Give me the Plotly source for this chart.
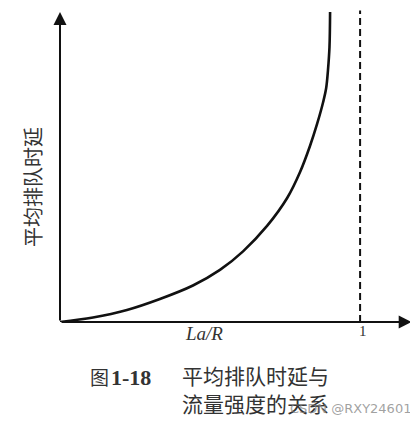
import plotly.graph_objects as go

# traffic intensity La/R vs average queuing delay
intensity = [0, 0.11, 0.223, 0.333, 0.443, 0.533, 0.61, 0.69, 0.757, 0.8, 0.833,
             0.857, 0.877, 0.887, 0.893, 0.898, 0.9]
delay = [0, 0.145, 0.387, 0.742, 1.177, 1.68, 2.28, 3.1, 4.0, 4.84, 5.68,
         6.4, 7.1, 7.55, 8.13, 8.87, 10.0]

limit_x = [1, 1]
limit_y = [0, 10.05]

y_title = "平均排队时延"
x_title = "<i>La/R</i>"
tick_one = "1"
fig_no = "1-18"
caption_1 = "平均排队时延与"
caption_2 = "流量强度的关系"
watermark = "CSDN @RXY24601"

cjk = "Noto Sans CJK SC"
serif = "Liberation Serif"
ink = "#111111"
txt = "#333333"

fig = go.Figure()
fig.add_trace(go.Scatter(x=intensity, y=delay, mode="lines", line_shape="spline",
                         line=dict(color=ink, width=2.6, smoothing=1.0), hoverinfo="skip"))
fig.add_trace(go.Scatter(x=limit_x, y=limit_y, mode="lines",
                         line=dict(color=ink, width=2, dash="7px,4px"), hoverinfo="skip"))

# axis arrows
fig.add_annotation(x=0, y=10.0, ax=0, ay=0, axref="x", ayref="y", text="", showarrow=True,
                   arrowhead=2, arrowsize=1.3, arrowwidth=2, arrowcolor=ink, standoff=0)
fig.add_annotation(x=1.172, y=0, ax=0, ay=0, axref="x", ayref="y", text="", showarrow=True,
                   arrowhead=2, arrowsize=1.3, arrowwidth=2, arrowcolor=ink, standoff=0)

def label(x, y, text, family, size, color=txt, anchor="center", angle=0):
    fig.add_annotation(x=x, y=y, xref="paper", yref="paper", text=text, showarrow=False,
                       xanchor=anchor, textangle=angle,
                       font=dict(family=family, size=size, color=color))

label(-0.0795, 0.431, y_title, cjk, 20, angle=-90)
label(0.409, -0.0767, x_title, serif, 19)
label(0.861, -0.0607, tick_one, serif, 15)
label(0.0795, -0.2236, "图", cjk, 19, anchor="left")
label(0.1395, -0.2236, "<b>" + fig_no + "</b>", serif, 22, anchor="left")
label(0.341, -0.2236, caption_1, cjk, 21, anchor="left")
label(0.341, -0.313, caption_2, cjk, 21, anchor="left")
label(0.648, -0.307, watermark, "DejaVu Sans", 13, color="rgba(130,130,130,0.75)", anchor="left")

fig.update_xaxes(range=[0, 1.173], visible=False)
fig.update_yaxes(range=[0, 10.1], visible=False)
fig.update_layout(width=410, height=428, margin=dict(l=52, r=6, t=1, b=114),
                  paper_bgcolor="white", plot_bgcolor="white", showlegend=False)

fig.write_html("out.html")
